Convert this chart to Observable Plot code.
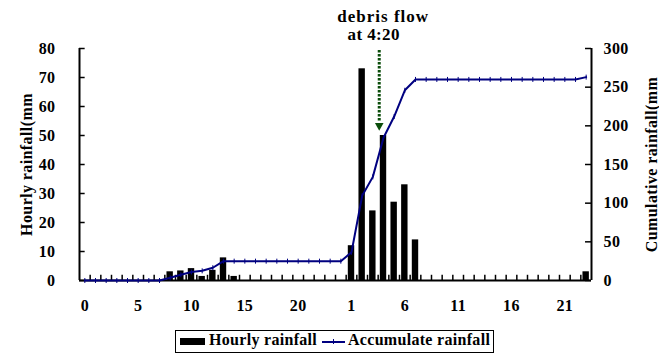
<!DOCTYPE html>
<html>
<head>
<meta charset="utf-8">
<script src="https://cdn.jsdelivr.net/npm/d3@7"></script>
<script src="https://cdn.jsdelivr.net/npm/@observablehq/plot@0.6"></script>
<style>
  html, body { margin: 0; padding: 0; background: #fff; }
  #wrap { position: relative; width: 659px; height: 358px; overflow: hidden; }
  #legend { position: absolute; left: 175px; top: 330px; width: 317px; height: 21px;
    border: 1px solid #000; font: bold 16px "Liberation Serif", serif; color: #000; }
  #legend .t { position: absolute; top: -2px; line-height: 21px; white-space: nowrap; letter-spacing: 0.3px; }
  #legend .sw { position: absolute; left: 4px; top: 7px; width: 25px; height: 7px; background: #000; }
  #legend .ln { position: absolute; left: 146px; top: 10px; width: 23px; height: 2px; background: #000080; }
  #legend .mk { position: absolute; left: 157px; top: 8px; width: 1px; height: 5px; background: #000080; }
</style>
</head>
<body>
<div id="wrap">
  <div id="chart"></div>
  <div id="legend">
    <span class="sw"></span><span class="t" style="left:33px">Hourly rainfall</span>
    <span class="ln"></span><span class="mk"></span>
    <span class="t" style="left:172px">Accumulate rainfall</span>
  </div>
</div>
<script>
// Hourly rainfall (mm) per hourly slot, two consecutive days (48 slots)
const hourlyRain = [
  0, 0, 0, 0, 0, 0, 0, 0, 3, 3.3, 4.1, 1.4, 3.5, 7.8, 1.4, 0, 0, 0, 0, 0, 0, 0, 0, 0,
  0, 12, 73, 24, 50, 27, 33, 14, 0, 0, 0, 0, 0, 0, 0, 0, 0, 0, 0, 0, 0, 0, 0, 3
];
// Accumulated rainfall (mm)
const cumulativeRain = [
  0, 0, 0, 0, 0, 0, 0, 0, 3.5, 7.5, 11, 12.5, 16.5, 25, 25, 25, 25, 25, 25, 25, 25, 25, 25, 25,
  25, 36.5, 109.5, 134, 184.5, 212, 246, 260, 260, 260, 260, 260, 260, 260, 260, 260, 260, 260, 260, 260, 260, 260, 260, 263
];
// x tick labels (hour of day) and the slots they label
const xTickSlots = [0, 5, 10, 15, 20, 25, 30, 35, 40, 45];
const xTickLabels = ["0", "5", "10", "15", "20", "1", "6", "11", "16", "21"];
const leftTicks = [0, 10, 20, 30, 40, 50, 60, 70, 80];
const rightTicks = [0, 50, 100, 150, 200, 250, 300];
// annotation
const eventSlot = 28.1;      // debris flow at 4:20 on day 2
const eventText = ["debris flow", "at 4:20"];

const nSlots = hourlyRain.length;
const leftMax = 80, rightMax = 300, k = leftMax / rightMax;
const bars = hourlyRain.map((v, i) => ({i, v})).filter(d => d.v > 0);
const cum = cumulativeRain.map((v, i) => ({i, v}));
const labelMap = new Map(xTickSlots.map((s, j) => [s + 0.5, xTickLabels[j]]));

const vtick = { draw(ctx, size) { const r = Math.sqrt(size / Math.PI); ctx.moveTo(0, -r); ctx.lineTo(0, r); } };
const downTri = { draw(ctx, size) { const r = Math.sqrt(size / Math.PI); ctx.moveTo(-r, -r * 0.9); ctx.lineTo(r, -r * 0.9); ctx.lineTo(0, r * 0.9); ctx.closePath(); } };

const navy = "#000080", green = "#0b4d0b";

const plot = Plot.plot({
  width: 659, height: 320,
  marginLeft: 79, marginRight: 68, marginTop: 48, marginBottom: 40,
  x: {domain: [0, nSlots], axis: null},
  y: {domain: [0, leftMax], axis: null},
  style: {fontFamily: "Liberation Serif", fontWeight: "bold", fontSize: "16px", color: "#000", background: "#fff", overflow: "visible"},
  marks: [
    Plot.rectY(bars, {x1: d => d.i + 0.2, x2: d => d.i + 0.8, y: "v", fill: "#000"}),
    // axis frame lines
    Plot.ruleX([0], {stroke: "#000", strokeWidth: 2}),
    Plot.ruleX([nSlots], {stroke: "#000", strokeWidth: 2}),
    Plot.ruleY([0], {stroke: "#000", strokeWidth: 2}),
    // inward tick marks
    Plot.ruleY(leftTicks, {y: d => d, x1: 0, x2: 0.53, stroke: "#000", strokeWidth: 1.5}),
    Plot.ruleY(rightTicks, {y: d => d * k, x1: nSlots - 0.56, x2: nSlots, stroke: "#000", strokeWidth: 1.5}),
    Plot.ruleX(d3.range(1, nSlots), {x: d => d, y1: 0, y2: 1.8, stroke: "#000", strokeWidth: 1.5}),
    // cumulative line
    Plot.line(cum, {x: d => d.i + 0.5, y: d => d.v * k, stroke: navy, strokeWidth: 2}),
    Plot.dot(cum, {x: d => d.i + 0.5, y: d => d.v * k, symbol: vtick, r: 2.5, stroke: navy, strokeWidth: 1}),
    // axes labels
    Plot.axisY({anchor: "left", ticks: leftTicks, tickSize: 0, tickPadding: 24, label: null, fontSize: 16}),
    Plot.axisY({anchor: "right", ticks: rightTicks.map(d => d * k), tickFormat: d => String(Math.round(d / k)), tickSize: 0, tickPadding: 12, label: null, fontSize: 16}),
    Plot.axisX({anchor: "bottom", ticks: xTickSlots.map(s => s + 0.5), tickFormat: d => labelMap.get(d), tickSize: 0, tickPadding: 19, label: null, fontSize: 16}),
    Plot.text(["Hourly rainfall(mm"], {frameAnchor: "left", textAnchor: "middle", lineAnchor: "middle", dx: -53, rotate: -90, text: d => d, fontSize: 16}),
    Plot.text(["Cumulative rainfall(mm"], {frameAnchor: "right", textAnchor: "middle", lineAnchor: "middle", dx: 60, rotate: -90, text: d => d, fontSize: 16}),
    // debris flow annotation
    Plot.ruleX([eventSlot], {x: d => d, y1: 79.3, y2: 54.5, stroke: green, strokeWidth: 3, strokeDasharray: "2.5,1.5"}),
    Plot.dot([eventSlot], {x: d => d, y: 53, symbol: downTri, r: 4.3, fill: green, stroke: "none"}),
    Plot.text([eventText[0]], {x: () => eventSlot, frameAnchor: "top", lineAnchor: "middle", dx: 4, dy: -31.5, text: d => d, fontSize: 17, className: "ann1"}),
    Plot.text([eventText[1]], {x: () => eventSlot, frameAnchor: "top", lineAnchor: "middle", dx: -5.5, dy: -13.5, text: d => d, fontSize: 17})
  ]
});
plot.querySelectorAll("text").forEach(t => t.setAttribute("letter-spacing", "0.4"));
plot.querySelectorAll(".ann1 text").forEach(t => t.setAttribute("letter-spacing", "1"));
document.getElementById("chart").appendChild(plot);
</script>
</body>
</html>
